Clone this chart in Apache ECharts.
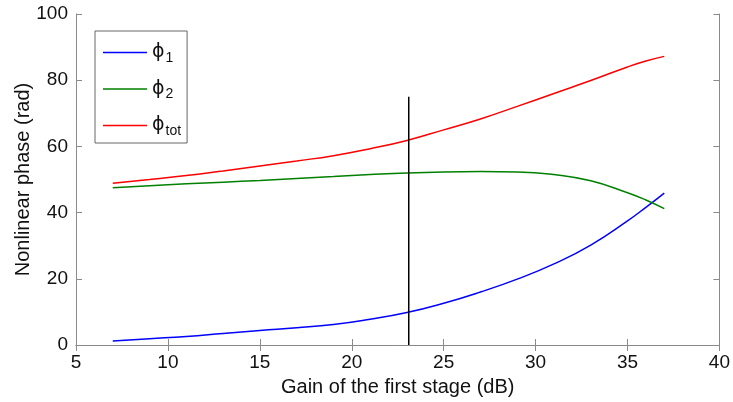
<!DOCTYPE html>
<html>
<head>
<meta charset="utf-8">
<script src="https://cdn.jsdelivr.net/npm/echarts@6/dist/echarts.min.js"></script>
<style>html,body{margin:0;padding:0;background:#fff}#c{width:733px;height:402px}</style>
</head>
<body>
<div id="c"></div>
<script>
var gain = [7, 9, 11, 13, 15, 17, 19, 21, 23, 25, 27, 29, 31, 33, 35, 36, 37];
var phi1 = [1.2, 1.9, 2.6, 3.5, 4.4, 5.2, 6.2, 7.8, 9.8, 12.6, 16.0, 19.9, 24.5, 30.2, 37.5, 41.6, 45.9];
var phi2 = [47.5, 48.1, 48.7, 49.2, 49.7, 50.3, 50.9, 51.5, 52.0, 52.3, 52.4, 52.3, 51.5, 49.6, 46.0, 43.8, 41.2];
var phiTot = [48.9, 50.0, 51.2, 52.6, 54.1, 55.6, 57.2, 59.3, 61.8, 65.0, 68.3, 72.1, 76.0, 79.9, 84.0, 85.8, 87.2];
var markerX = 23.1;
var markerY = [0, 75];
var xTicks = [5, 40, 5];
var yTicks = [0, 100, 20];
var names = ['phi1', 'phi2', 'phitot'];
var subs = {phi1: '1', phi2: '2', phitot: 'tot'};

function pairs(xs, ys) { return xs.map(function (x, i) { return [x, ys[i]]; }); }

var chart = echarts.init(document.getElementById('c'));
var axisColor = '#8a8a8a';
var font = 'Liberation Sans, Arial, sans-serif';
function mkX(pos, show) {
  return {
    type: 'value', position: pos, min: xTicks[0], max: xTicks[1], interval: xTicks[2],
    axisLine: {show: true, lineStyle: {color: axisColor, width: 1}},
    axisTick: {show: true, inside: true, length: 6, lineStyle: {color: axisColor}},
    axisLabel: {show: show, color: '#111', fontSize: 19, fontFamily: font, margin: 8},
    splitLine: {show: false},
    name: show ? 'Gain of the first stage (dB)' : '', nameLocation: 'middle', nameGap: 32,
    nameMoveOverlap: false,
    nameTextStyle: {color: '#111', fontSize: 20, fontFamily: font}
  };
}
function mkY(pos, show) {
  return {
    type: 'value', position: pos, min: yTicks[0], max: yTicks[1], interval: yTicks[2],
    axisLine: {show: true, lineStyle: {color: axisColor, width: 1}},
    axisTick: {show: true, inside: true, length: 6, lineStyle: {color: axisColor}},
    axisLabel: {show: show, color: '#111', fontSize: 19, fontFamily: font, margin: 8},
    splitLine: {show: false},
    name: show ? 'Nonlinear phase (rad)' : '', nameLocation: 'middle', nameGap: 43,
    nameMoveOverlap: false,
    nameTextStyle: {color: '#111', fontSize: 20, fontFamily: font}
  };
}
chart.setOption({
  animation: false,
  backgroundColor: '#fff',
  grid: {left: 76, right: 12, top: 14, bottom: 55},
  xAxis: [mkX('bottom', true), mkX('top', false)],
  yAxis: [mkY('left', true), mkY('right', false)],
  legend: {
    left: 95, top: 31, orient: 'vertical',
    data: names, icon: 'rect',
    backgroundColor: '#fff', borderColor: '#666', borderWidth: 1, borderRadius: 0,
    padding: [9, 6, 5, 8], itemGap: 11.5, itemWidth: 44, itemHeight: 1.5,
    formatter: function (n) { return '{b|\u03D5}{s|' + subs[n] + '}'; },
    textStyle: {
      fontFamily: font, lineHeight: 22,
      rich: {
        b: {fontSize: 19, fontFamily: 'DejaVu Sans, sans-serif', color: '#111', lineHeight: 22},
        s: {fontSize: 14, fontFamily: font, color: '#111', padding: [11, 0, 0, 1], lineHeight: 22}
      }
    }
  },
  series: [
    {name: 'phi1', type: 'line', data: pairs(gain, phi1), smooth: 0.5, symbol: 'none', lineStyle: {color: '#0000ff', width: 1.5}, itemStyle: {color: '#0000ff'}},
    {name: 'phi2', type: 'line', data: pairs(gain, phi2), smooth: 0.5, symbol: 'none', lineStyle: {color: '#008000', width: 1.5}, itemStyle: {color: '#008000'}},
    {name: 'phitot', type: 'line', data: pairs(gain, phiTot), smooth: 0.5, symbol: 'none', lineStyle: {color: '#ff0000', width: 1.5}, itemStyle: {color: '#ff0000'}},
    {name: 'marker', type: 'line', data: [[markerX, markerY[0]], [markerX, markerY[1]]], symbol: 'none', lineStyle: {color: '#000', width: 1.5}, itemStyle: {color: '#000'}}
  ]
});
</script>
</body>
</html>
